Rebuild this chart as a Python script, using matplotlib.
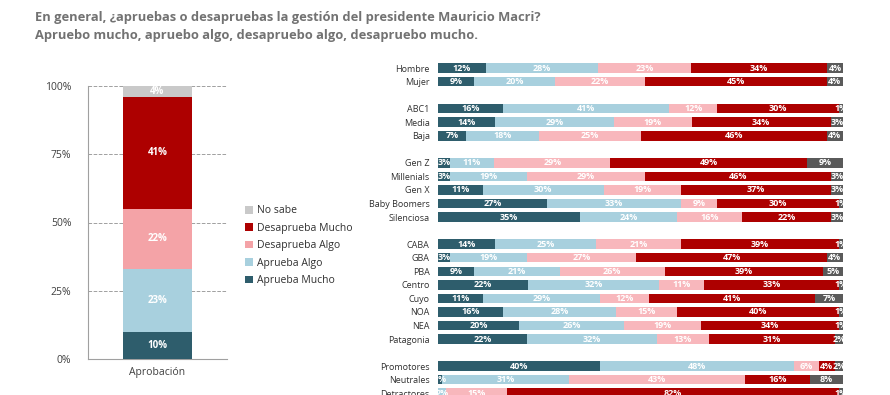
import matplotlib
matplotlib.use("Agg")
import matplotlib.pyplot as plt
from matplotlib.patches import Patch

plt.rcParams['font.family'] = ['Open Sans', 'DejaVu Sans']

# series order: Aprueba Mucho, Aprueba Algo, Desaprueba Algo, Desaprueba Mucho, No sabe
series = ["Aprueba Mucho", "Aprueba Algo", "Desaprueba Algo", "Desaprueba Mucho", "No sabe"]
total = [10, 23, 22, 41, 4]

groups = ["Hombre", "Mujer", None, "ABC1", "Media", "Baja", None,
          "Gen Z", "Millenials", "Gen X", "Baby Boomers", "Silenciosa", None,
          "CABA", "GBA", "PBA", "Centro", "Cuyo", "NOA", "NEA", "Patagonia", None,
          "Promotores", "Neutrales", "Detractores"]
am = [12, 9, None, 16, 14, 7, None, 3, 3, 11, 27, 35, None,
      14, 3, 9, 22, 11, 16, 20, 22, None, 40, 1, 0]
aa = [28, 20, None, 41, 29, 18, None, 11, 19, 30, 33, 24, None,
      25, 19, 21, 32, 29, 28, 26, 32, None, 48, 31, 2]
da = [23, 22, None, 12, 19, 25, None, 29, 29, 19, 9, 16, None,
      21, 27, 26, 11, 12, 15, 19, 13, None, 6, 43, 15]
dm = [34, 45, None, 30, 34, 46, None, 49, 46, 37, 30, 22, None,
      39, 47, 39, 33, 41, 40, 34, 31, None, 4, 16, 82]
ns = [4, 4, None, 1, 3, 4, None, 9, 3, 3, 1, 3, None,
      1, 4, 5, 1, 7, 1, 1, 2, None, 2, 8, 1]

left_colors = ["#2E5D6C", "#A8D0DE", "#F4A3A7", "#AD0000", "#C9C9C9"]
right_colors = ["#2E5D6C", "#A8D0DE", "#F8B7BC", "#AD0000", "#5A5A5A"]

fig = plt.figure(figsize=(8.9, 3.95), dpi=100)

fig.text(35 / 890, 1 - 17 / 395, "En general, ¿apruebas o desapruebas la gestión del presidente Mauricio Macri?",
         fontsize=9.3, fontweight="bold", color="#727272", va="center", ha="left")
fig.text(35 / 890, 1 - 35 / 395, "Apruebo mucho, apruebo algo, desapruebo algo, desapruebo mucho.",
         fontsize=9.3, fontweight="bold", color="#727272", va="center", ha="left")

# left stacked column
ax1 = fig.add_axes([88 / 890, 36 / 395, 139 / 890, 273 / 395])
bottom = 0
for v, c in zip(total, left_colors):
    ax1.bar(0, v, bottom=bottom, width=1.0, color=c, zorder=3)
    ax1.text(0, bottom + v / 2, f"{v}%", ha="center", va="center", color="white",
             fontsize=7, fontweight="bold", zorder=4)
    bottom += v
ax1.set_xlim(-1, 1)
ax1.set_ylim(0, 100)
ax1.set_yticks([0, 25, 50, 75, 100])
ax1.set_yticklabels(["0%", "25%", "50%", "75%", "100%"])
ax1.set_xticks([0])
ax1.set_xticklabels(["Aprobación"])
ax1.grid(axis="y", linestyle="--", color="#A0A0A0", linewidth=0.7, zorder=0)
for s in ["top", "right"]:
    ax1.spines[s].set_visible(False)
for s in ["left", "bottom"]:
    ax1.spines[s].set_color("#A0A0A0")
    ax1.spines[s].set_linewidth(0.8)
ax1.tick_params(axis="y", length=0, labelsize=7.5, labelcolor="#404040", pad=12)
ax1.tick_params(axis="x", length=0, labelsize=7.5, labelcolor="#404040", pad=6)

handles = [Patch(facecolor=c, edgecolor="none") for c in left_colors][::-1]
fig.legend(handles, series[::-1], loc="upper left", bbox_to_anchor=(236 / 890, 1 - 196 / 395),
           frameon=False, fontsize=7.5, handlelength=0.75, handleheight=0.75,
           handletextpad=0.4, labelspacing=0.62, labelcolor="#303030")

# right stacked bars
ax2 = fig.add_axes([438 / 890, 0, 405 / 890, 340 / 395])
cols = [am, aa, da, dm, ns]
for i, g in enumerate(groups):
    if g is None:
        continue
    vals = [col[i] for col in cols]
    tot = sum(vals)
    left = 0
    for v, c in zip(vals, right_colors):
        w = v / tot * 100
        ax2.barh(i, w, left=left, height=0.7, color=c)
        if v > 0:
            ax2.text(left + w / 2, i, f"{v}%", ha="center", va="center", color="white",
                     fontsize=6.5, fontweight="bold", clip_on=True)
        left += w
pos = [i for i, g in enumerate(groups) if g is not None]
ax2.set_yticks(pos)
ax2.set_yticklabels([g for g in groups if g is not None])
ax2.set_xlim(0, 100)
ax2.set_ylim(24.13, -0.96)
ax2.set_xticks([])
for s in ax2.spines.values():
    s.set_visible(False)
ax2.tick_params(axis="y", length=0, labelsize=6.5, labelcolor="#303030", pad=6)

fig.savefig("out.png", dpi=100)
